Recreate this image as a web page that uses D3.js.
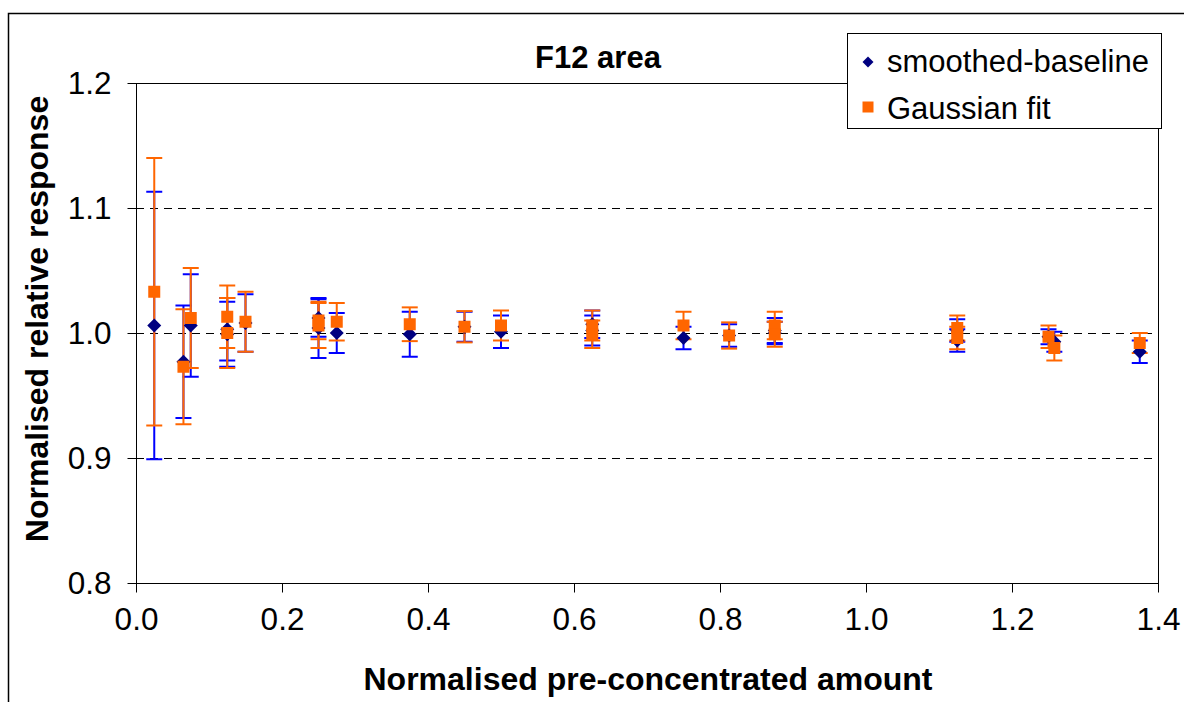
<!DOCTYPE html>
<html>
<head>
<meta charset="utf-8">
<script src="https://cdn.jsdelivr.net/npm/d3@7"></script>
<style>
  html, body { margin: 0; padding: 0; background: #fff; }
  svg { display: block; font-family: "Liberation Sans", Arial, sans-serif; }
</style>
</head>
<body>
<svg id="chart" width="1184" height="702"></svg>
<script>
// Pre-concentrated amount (normalised) for each measurement
const amounts = [0.025, 0.065, 0.075, 0.125, 0.125, 0.15, 0.25, 0.25, 0.275, 0.375, 0.45, 0.5,
                 0.625, 0.625, 0.75, 0.8125, 0.875, 0.875, 1.125, 1.125, 1.25, 1.258, 1.375];

// Smoothed-baseline response and its error
const baselineValues = [1.006, 0.977, 1.006, 1.003, 0.999, 1.008, 1.004, 1.012, 1.000, 0.999, 1.005, 1.001,
                        1.007, 1.002, 0.996, 0.998, 1.002, 1.000, 1.002, 0.994, 0.997, 0.993, 0.985];
const baselineErrors = [0.107, 0.045, 0.041, 0.025, 0.026, 0.023, 0.024, 0.015, 0.016, 0.018, 0.012, 0.013,
                        0.011, 0.012, 0.009, 0.009, 0.010, 0.009, 0.009, 0.009, 0.006, 0.008, 0.009];

// Gaussian-fit response and its error
const gaussValues = [1.033, 0.973, 1.012, 1.013, 1.000, 1.009, 1.010, 1.006, 1.009, 1.007, 1.005, 1.006,
                     1.006, 0.999, 1.006, 0.998, 1.006, 0.999, 1.004, 0.996, 0.997, 0.988, 0.992];
const gaussErrors = [0.107, 0.046, 0.040, 0.025, 0.028, 0.024, 0.015, 0.018, 0.015, 0.0135, 0.0125, 0.012,
                     0.012, 0.011, 0.011, 0.0105, 0.011, 0.010, 0.010, 0.009, 0.009, 0.010, 0.008];

const xTicks = [0.0, 0.2, 0.4, 0.6, 0.8, 1.0, 1.2, 1.4];
const yTicks = [0.8, 0.9, 1.0, 1.1, 1.2];
const gridValues = [0.9, 1.0, 1.1];

const seriesNames = ["smoothed-baseline", "Gaussian fit"];
const markerColors = ["#000080", "#FF6600"];
const errorColors = ["#0000FF", "#FF6600"];

const svg = d3.select("#chart");
const W = 1184, H = 702;
const plot = { left: 136, right: 1158, top: 83, bottom: 583 };

const x = d3.scaleLinear().domain([0, 1.4]).range([plot.left, plot.right]);
const y = d3.scaleLinear().domain([0.8, 1.2]).range([plot.bottom, plot.top]);

svg.append("rect").attr("width", W).attr("height", H).attr("fill", "#fff");

// Outer chart frame
svg.append("path")
  .attr("d", `M8.5,${H} L8.5,13.5 L${W},13.5`)
  .attr("fill", "none").attr("stroke", "#000").attr("stroke-width", 1.5);

// Dashed gridlines
svg.append("g").selectAll("line").data(gridValues).join("line")
  .attr("x1", plot.left).attr("x2", plot.right)
  .attr("y1", d => Math.round(y(d)) + 0.5).attr("y2", d => Math.round(y(d)) + 0.5)
  .attr("stroke", "#000").attr("stroke-width", 1).attr("stroke-dasharray", "8,6");

// Plot-area border (top and right)
svg.append("path")
  .attr("d", `M${plot.left},${plot.top + 0.5} L${plot.right + 0.5},${plot.top + 0.5} L${plot.right + 0.5},${plot.bottom}`)
  .attr("fill", "none").attr("stroke", "#000").attr("stroke-width", 1);

// Axes
const yAxis = d3.axisLeft(y).tickValues(yTicks).tickFormat(d3.format(".1f")).tickSize(9).tickPadding(16);
const xAxis = d3.axisBottom(x).tickValues(xTicks).tickFormat(d3.format(".1f")).tickSize(9).tickPadding(15);

const gy = svg.append("g").attr("transform", `translate(${plot.left + 0.5},0)`).call(yAxis);
const gx = svg.append("g").attr("transform", `translate(0,${plot.bottom + 0.5})`).call(xAxis);
[gx, gy].forEach(g => {
  g.select(".domain").attr("stroke", "#000").attr("stroke-width", 1);
  g.selectAll(".tick line").attr("stroke", "#000").attr("stroke-width", 1);
  g.selectAll(".tick text").attr("fill", "#000").style("font-size", "31.5px")
    .style("font-family", "'Liberation Sans', Arial, sans-serif");
});
gx.select(".domain").attr("d", `M${plot.left},0H${plot.right + 1}`);
gy.select(".domain").attr("d", `M0,${plot.top}V${plot.bottom + 1}`);

// Error bars and markers
const series = [
  { values: baselineValues, errors: baselineErrors },
  { values: gaussValues, errors: gaussErrors }
];
const capHalf = 8;

series.forEach((s, si) => {
  const g = svg.append("g").attr("stroke", errorColors[si]).attr("stroke-width", 2);
  amounts.forEach((a, i) => {
    const cx = x(a);
    const lo = y(s.values[i] - s.errors[i]);
    const hi = y(s.values[i] + s.errors[i]);
    g.append("line").attr("x1", cx).attr("x2", cx).attr("y1", hi).attr("y2", lo);
    g.append("line").attr("x1", cx - capHalf).attr("x2", cx + capHalf).attr("y1", hi).attr("y2", hi);
    g.append("line").attr("x1", cx - capHalf).attr("x2", cx + capHalf).attr("y1", lo).attr("y2", lo);
  });
});

const diamond = r => `M0,${-r}L${r},0L0,${r}L${-r},0Z`;

svg.append("g").selectAll("path").data(amounts).join("path")
  .attr("transform", (d, i) => `translate(${x(d)},${y(baselineValues[i])})`)
  .attr("d", diamond(7))
  .attr("fill", markerColors[0]);

const sq = 12;
svg.append("g").selectAll("rect").data(amounts).join("rect")
  .attr("x", d => x(d) - sq / 2)
  .attr("y", (d, i) => y(gaussValues[i]) - sq / 2)
  .attr("width", sq).attr("height", sq)
  .attr("fill", markerColors[1]);

// Title
svg.append("text")
  .attr("x", 598).attr("y", 68)
  .attr("text-anchor", "middle")
  .style("font-size", "31px").style("font-weight", "bold")
  .text("F12 area");

// Axis titles
svg.append("text")
  .attr("x", 648).attr("y", 690)
  .attr("text-anchor", "middle")
  .style("font-size", "32px").style("font-weight", "bold")
  .text("Normalised pre-concentrated amount");

svg.append("text")
  .attr("transform", "translate(48,319) rotate(-90)")
  .attr("text-anchor", "middle")
  .style("font-size", "32px").style("font-weight", "bold")
  .text("Normalised relative response");

// Legend
const legend = svg.append("g");
legend.append("rect")
  .attr("x", 847.5).attr("y", 33.5).attr("width", 314).attr("height", 95)
  .attr("fill", "#fff").attr("stroke", "#000").attr("stroke-width", 1);
legend.append("path")
  .attr("transform", "translate(868,62)")
  .attr("d", diamond(5.5)).attr("fill", markerColors[0]);
legend.append("rect")
  .attr("x", 862.5).attr("y", 101.5).attr("width", 11).attr("height", 11)
  .attr("fill", markerColors[1]);
legend.selectAll("text.lbl").data(seriesNames).join("text")
  .attr("class", "lbl")
  .attr("x", 887).attr("y", (d, i) => 72 + i * 47)
  .style("font-size", "31px")
  .text(d => d);
</script>
</body>
</html>
